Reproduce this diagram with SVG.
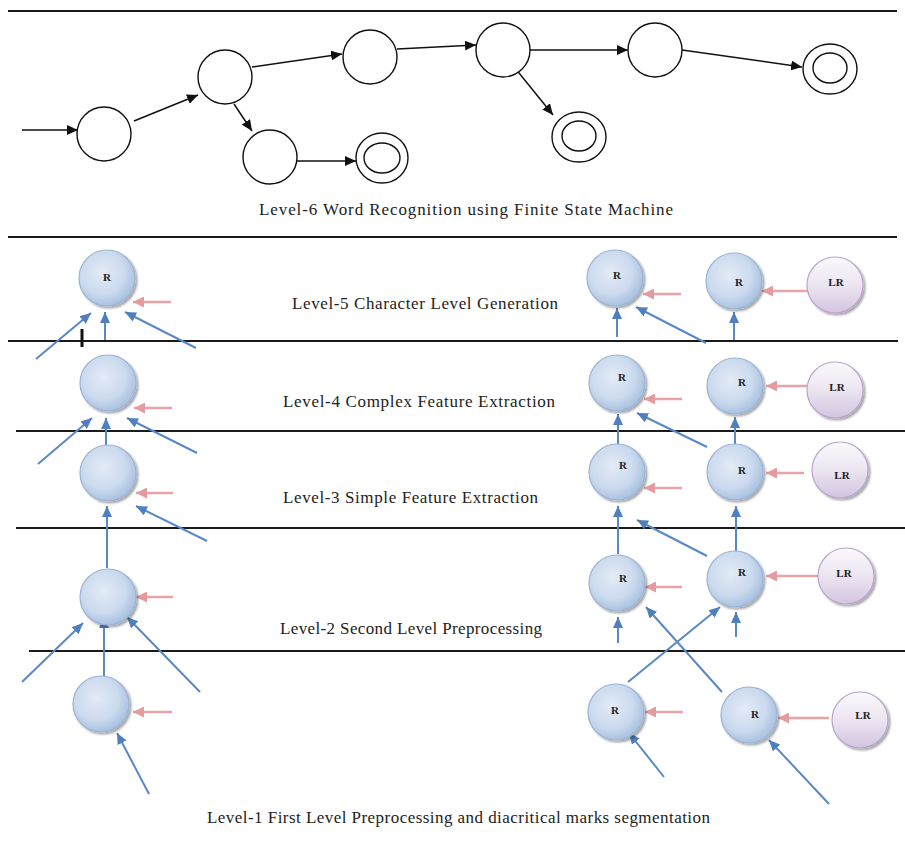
<svg xmlns="http://www.w3.org/2000/svg" width="905" height="859" viewBox="0 0 905 859">
<defs>
<style>
.rule{stroke:#1a1a1a;stroke-width:2;fill:none}
.st{fill:#fff;stroke:#111;stroke-width:1.4}
.fa{stroke:#111;stroke-width:1.5;fill:none;marker-end:url(#ah)}
.ba{stroke:#5a88c4;stroke-width:2;fill:none;marker-end:url(#bh)}
.pa{stroke:#e8a3a6;stroke-width:2.5;fill:none;marker-end:url(#ph)}
.rn{fill:url(#gb);stroke:#9bb4d6;stroke-width:1.2;filter:url(#sh)}
.lr{fill:url(#gp);stroke:#b9a5cc;stroke-width:1.2;filter:url(#sh)}
.lbl{font-family:"Liberation Serif","DejaVu Serif",serif;font-size:17px;fill:#222}
.nl{font-family:"Liberation Serif","DejaVu Serif",serif;font-size:11px;font-weight:bold;fill:#222;text-anchor:middle}
</style>
<marker id="ah" markerUnits="userSpaceOnUse" markerWidth="12" markerHeight="10" refX="11" refY="5" orient="auto"><path d="M0,0 L11,5 L0,10 z" fill="#111"/></marker>
<marker id="bh" markerUnits="userSpaceOnUse" markerWidth="12" markerHeight="10" refX="11" refY="5" orient="auto"><path d="M0,0 L11,5 L0,10 z" fill="#4f7fbf"/></marker>
<marker id="ph" markerUnits="userSpaceOnUse" markerWidth="12" markerHeight="11" refX="11" refY="5.5" orient="auto"><path d="M0,0 L11,5.5 L0,11 z" fill="#e59a9e"/></marker>
<radialGradient id="gb" cx="0.42" cy="0.4" r="0.65">
<stop offset="0" stop-color="#e3ebf6"/><stop offset="0.6" stop-color="#cbdaee"/><stop offset="1" stop-color="#a3bcde"/></radialGradient>
<linearGradient id="gp" x1="0" y1="0" x2="0" y2="1">
<stop offset="0" stop-color="#fbf9fc"/><stop offset="0.5" stop-color="#ece5f1"/><stop offset="1" stop-color="#d3c4e0"/></linearGradient>
<filter id="sh" x="-20%" y="-20%" width="150%" height="150%"><feGaussianBlur in="SourceAlpha" stdDeviation="1.2"/><feOffset dx="1.5" dy="2" result="o"/><feComponentTransfer><feFuncA type="linear" slope="0.35"/></feComponentTransfer><feMerge><feMergeNode/><feMergeNode in="SourceGraphic"/></feMerge></filter>
</defs>
<rect width="905" height="859" fill="#fff"/>

<g id="rules">
<line class="rule" x1="8" y1="11" x2="897" y2="11"/>
<line class="rule" x1="8" y1="237" x2="897" y2="237"/>
<line class="rule" x1="8" y1="341" x2="898" y2="341"/>
<line class="rule" x1="16" y1="431" x2="905" y2="431"/>
<line class="rule" x1="16" y1="528" x2="905" y2="528"/>
<line class="rule" x1="29" y1="651" x2="905" y2="651"/>
<line x1="82" y1="329" x2="82" y2="347" stroke="#111" stroke-width="3"/>
</g>

<g id="fsm-connectors">
<line class="fa" x1="22" y1="130" x2="78" y2="130"/>
<line class="fa" x1="134" y1="121" x2="198" y2="95"/>
<line class="fa" x1="252" y1="67" x2="342" y2="54"/>
<line class="fa" x1="234" y1="104" x2="252" y2="131"/>
<line class="fa" x1="297" y1="161" x2="356" y2="161"/>
<line class="fa" x1="397" y1="49" x2="476" y2="45"/>
<line class="fa" x1="530" y1="50" x2="628" y2="50"/>
<line class="fa" x1="515" y1="68" x2="553" y2="115"/>
<line class="fa" x1="682" y1="50" x2="802" y2="67"/>
</g>

<g id="s0"><circle class="st" cx="104" cy="134" r="27"/></g>
<g id="s1"><circle class="st" cx="225" cy="77" r="27"/></g>
<g id="s2"><circle class="st" cx="270" cy="157" r="27"/></g>
<g id="f1"><ellipse class="st" cx="382" cy="158" rx="26" ry="25"/><ellipse class="st" cx="382" cy="158" rx="18" ry="15"/></g>
<g id="s4"><circle class="st" cx="370" cy="57" r="27"/></g>
<g id="s5"><circle class="st" cx="503" cy="50" r="27"/></g>
<g id="s6"><circle class="st" cx="655" cy="50" r="27"/></g>
<g id="f2"><ellipse class="st" cx="579" cy="137" rx="27" ry="25"/><ellipse class="st" cx="579" cy="136" rx="17" ry="15"/></g>
<g id="f3"><ellipse class="st" cx="830" cy="69" rx="27" ry="25"/><ellipse class="st" cx="830" cy="68" rx="17" ry="15"/></g>

<text class="lbl" x="259" y="215" textLength="414" lengthAdjust="spacing">Level-6  Word  Recognition  using  Finite  State  Machine</text>
<text class="lbl" x="292" y="309" textLength="266" lengthAdjust="spacing">Level-5  Character  Level  Generation</text>
<text class="lbl" x="283" y="407" textLength="272" lengthAdjust="spacing">Level-4  Complex Feature  Extraction</text>
<text class="lbl" x="283" y="503" textLength="255" lengthAdjust="spacing">Level-3  Simple Feature  Extraction</text>
<text class="lbl" x="280" y="634" textLength="262" lengthAdjust="spacing">Level-2  Second  Level  Preprocessing</text>
<text class="lbl" x="207" y="823" textLength="503" lengthAdjust="spacing">Level-1  First  Level  Preprocessing  and  diacritical  marks  segmentation</text>

<g id="connectors">
<line class="ba" x1="36" y1="359" x2="91" y2="313"/>
<line class="ba" x1="105" y1="340" x2="105" y2="312"/>
<line class="ba" x1="196" y1="348" x2="125" y2="312"/>
<line class="pa" x1="171" y1="302" x2="133" y2="302"/>

<line class="ba" x1="38" y1="464" x2="92" y2="418"/>
<line class="ba" x1="106" y1="445" x2="106" y2="418"/>
<line class="ba" x1="197" y1="453" x2="127" y2="418"/>
<line class="pa" x1="172" y1="408" x2="134" y2="408"/>

<line class="ba" x1="107" y1="568" x2="107" y2="506"/>
<line class="ba" x1="207" y1="541" x2="136" y2="506"/>
<line class="pa" x1="173" y1="493" x2="136" y2="493"/>

<line class="ba" x1="22" y1="682" x2="83" y2="623"/>
<line class="ba" x1="104" y1="676" x2="104" y2="617"/>
<line class="ba" x1="200" y1="692" x2="127" y2="617"/>
<line class="pa" x1="173" y1="597" x2="136" y2="597"/>

<line class="ba" x1="149" y1="794" x2="117" y2="733"/>
<line class="pa" x1="172" y1="712" x2="133" y2="712"/>

<line class="ba" x1="617" y1="337" x2="617" y2="308"/>
<line class="ba" x1="706" y1="343" x2="636" y2="307"/>
<line class="pa" x1="681" y1="294" x2="643" y2="294"/>
<line class="ba" x1="734" y1="340" x2="734" y2="312"/>
<line class="pa" x1="812" y1="291" x2="762" y2="291"/>

<line class="ba" x1="618" y1="444" x2="618" y2="414"/>
<line class="ba" x1="707" y1="447" x2="637" y2="413"/>
<line class="pa" x1="682" y1="399" x2="644" y2="399"/>
<line class="ba" x1="735" y1="445" x2="735" y2="417"/>
<line class="pa" x1="819" y1="386" x2="766" y2="386"/>

<line class="ba" x1="618" y1="554" x2="618" y2="506"/>
<line class="ba" x1="707" y1="556" x2="637" y2="520"/>
<line class="pa" x1="682" y1="488" x2="644" y2="488"/>
<line class="ba" x1="736" y1="551" x2="736" y2="506"/>
<line class="pa" x1="804" y1="473" x2="766" y2="473"/>

<line class="ba" x1="618" y1="643" x2="618" y2="617"/>
<line class="pa" x1="682" y1="587" x2="645" y2="587"/>
<line class="ba" x1="736" y1="637" x2="736" y2="612"/>
<line class="pa" x1="820" y1="576" x2="766" y2="576"/>
<line class="ba" x1="628" y1="682" x2="720" y2="607"/>
<line class="ba" x1="722" y1="692" x2="646" y2="607"/>

<line class="ba" x1="664" y1="777" x2="629" y2="733"/>
<line class="pa" x1="683" y1="712" x2="645" y2="712"/>
<line class="ba" x1="829" y1="804" x2="769" y2="740"/>
<line class="pa" x1="829" y1="718" x2="778" y2="718"/>
</g>

<g id="l5"><circle class="rn" cx="107" cy="278" r="28"/><text class="nl" x="107" y="281">R</text></g>
<g id="l4"><circle class="rn" cx="108" cy="383" r="28"/></g>
<g id="l3"><circle class="rn" cx="108" cy="473" r="28"/></g>
<g id="l2"><circle class="rn" cx="108" cy="597" r="28"/></g>
<g id="l1"><circle class="rn" cx="101" cy="704" r="28"/></g>

<g id="r5a"><circle class="rn" cx="615" cy="278" r="28"/><text class="nl" x="617" y="279">R</text></g>
<g id="r5b"><circle class="rn" cx="734" cy="281" r="28"/><text class="nl" x="739" y="286">R</text></g>
<g id="lr5"><circle class="lr" cx="835" cy="285" r="28"/><text class="nl" x="836" y="286">LR</text></g>

<g id="r4a"><circle class="rn" cx="617" cy="383" r="28"/><text class="nl" x="622" y="381">R</text></g>
<g id="r4b"><circle class="rn" cx="735" cy="386" r="28"/><text class="nl" x="742" y="386">R</text></g>
<g id="lr4"><circle class="lr" cx="835" cy="390" r="28"/><text class="nl" x="837" y="391">LR</text></g>

<g id="r3a"><circle class="rn" cx="617" cy="472" r="28"/><text class="nl" x="623" y="469">R</text></g>
<g id="r3b"><circle class="rn" cx="735" cy="472" r="28"/><text class="nl" x="742" y="474">R</text></g>
<g id="lr3"><circle class="lr" cx="840" cy="470" r="28"/><text class="nl" x="842" y="479">LR</text></g>

<g id="r2a"><circle class="rn" cx="617" cy="583" r="28"/><text class="nl" x="623" y="582">R</text></g>
<g id="r2b"><circle class="rn" cx="735" cy="579" r="28"/><text class="nl" x="742" y="576">R</text></g>
<g id="lr2"><circle class="lr" cx="846" cy="576" r="28"/><text class="nl" x="844" y="577">LR</text></g>

<g id="r1a"><circle class="rn" cx="616" cy="712" r="28"/><text class="nl" x="615" y="714">R</text></g>
<g id="r1b"><circle class="rn" cx="749" cy="715" r="28"/><text class="nl" x="755" y="718">R</text></g>
<g id="lr1"><circle class="lr" cx="860" cy="720" r="28"/><text class="nl" x="863" y="719">LR</text></g>
</svg>
